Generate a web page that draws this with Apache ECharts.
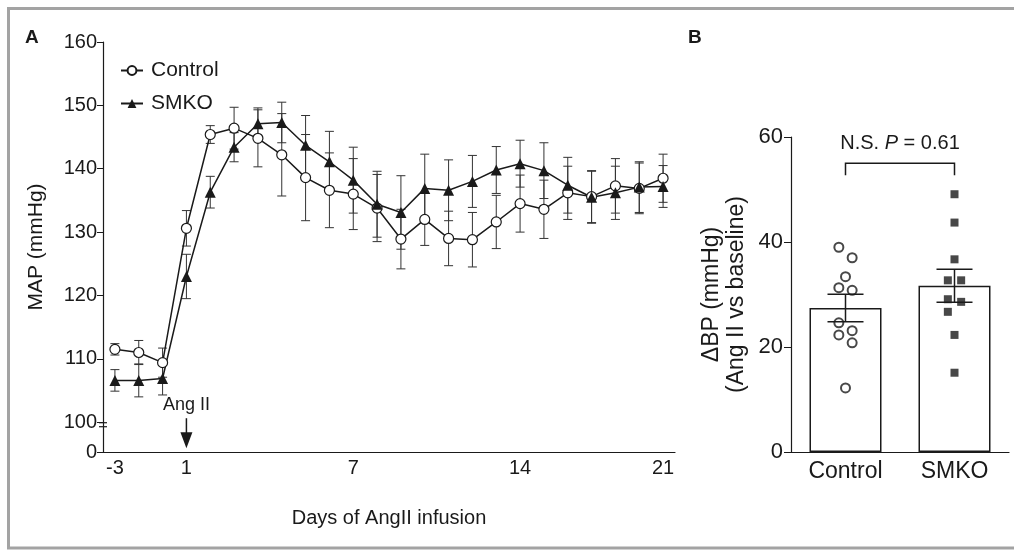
<!DOCTYPE html>
<html>
<head>
<meta charset="utf-8">
<script src="https://cdn.jsdelivr.net/npm/echarts@6.0.0/dist/echarts.min.js"></script>
<style>
html, body { margin: 0; padding: 0; background: #fff; }
#chart { width: 1014px; height: 550px; }
</style>
</head>
<body>
<div id="chart"></div>
<script>
// panel A: MAP over the infusion, 24 recording points, labelled only at some
const dayLabels = ['-3', '', '', '1', '', '', '', '', '', '', '7', '', '', '', '', '', '', '14', '', '', '', '', '', '21']
const controlMap = [111.5, 111.0, 109.4, 130.6, 145.4, 146.4, 144.8, 142.2, 138.6, 136.6, 136.0, 133.8, 128.9, 132.0, 129.0, 128.8, 131.6, 134.5, 133.6, 136.2, 135.6, 137.3, 136.9, 138.5]
const controlMapSem = [0.9, 1.9, 2.3, 2.8, 1.4, 3.3, 4.5, 6.5, 6.8, 5.9, 5.6, 5.3, 4.7, 4.1, 4.3, 4.3, 4.2, 4.5, 4.6, 4.2, 4.1, 4.3, 4.0, 3.8]
const smkoMap = [106.6, 106.6, 106.9, 123.0, 136.3, 143.4, 147.1, 147.3, 143.7, 141.1, 138.2, 134.4, 133.1, 136.9, 136.6, 138.0, 139.8, 140.8, 139.7, 137.4, 135.5, 136.2, 137.1, 137.2]
const smkoMapSem = [1.7, 2.6, 2.6, 3.5, 2.5, 2.3, 2.5, 3.2, 4.7, 4.8, 5.2, 5.2, 5.8, 5.4, 4.8, 4.1, 3.7, 3.7, 4.4, 4.4, 4.1, 4.2, 4.0, 3.3]
const mapTicks = [100, 110, 120, 130, 140, 150, 160]
const mapAxisBottom = 95.3 // broken axis: this point is labelled 0
const angIILabel = '1'

// panel B: change of BP per animal
const groups = ['Control', 'SMKO']
const controlDelta = [39.0, 37.0, 33.4, 31.3, 30.8, 24.6, 23.1, 22.3, 20.8, 12.2]
const smkoDelta = [49.1, 43.7, 36.7, 32.7, 32.7, 29.1, 28.6, 26.7, 22.3, 15.1]
const deltaTicks = [0, 20, 40, 60]
const bracketLevel = 55
const pValue = '0.61'

const FONT = "'Liberation Sans', Arial, Helvetica, sans-serif"
const INK = '#1a1a1a'
const gridA = { left: 103, top: 42, width: 572, height: 410 }
const gridB = { left: 791, top: 137, width: 218, height: 315 }

const mean = a => a.reduce((s, v) => s + v, 0) / a.length
const sem = a => {
  const m = mean(a)
  return Math.sqrt(a.reduce((s, v) => s + (v - m) * (v - m), 0) / (a.length - 1) / a.length)
}

// simple dot-plot spreading: greedy placement, then each run of close dots is centred
function swarm(values, pxPerUnit, d, step) {
  const order = values.map((v, i) => i).sort((a, b) => values[b] - values[a])
  const pos = []
  const placed = []
  order.forEach(i => {
    for (const k of [0, 1, -1, 2, -2, 3, -3]) {
      const ok = placed.every(j => {
        const dx = (k - pos[j]) * step
        const dy = (values[i] - values[j]) * pxPerUnit
        return dx * dx + dy * dy >= d * d
      })
      if (ok) { pos[i] = k; placed.push(i); break }
    }
  })
  const runs = []
  let cur = []
  order.forEach((i, n) => {
    if (n > 0 && (values[order[n - 1]] - values[i]) * pxPerUnit >= d) { runs.push(cur); cur = [] }
    cur.push(i)
  })
  runs.push(cur)
  runs.forEach(r => {
    const shift = Math.round(mean(r.map(i => pos[i])) * 2) / 2
    r.forEach(i => { pos[i] -= shift })
  })
  return pos.map(k => k * step)
}

function errorBar(halfCap, color, width) {
  return function (params, api) {
    const x = api.value(0)
    const hi = api.coord([x, api.value(2)])
    const lo = api.coord([x, api.value(1)])
    const style = { stroke: color, lineWidth: width, fill: null }
    return {
      type: 'group',
      children: [
        { type: 'line', shape: { x1: hi[0], y1: hi[1], x2: lo[0], y2: lo[1] }, style },
        { type: 'line', shape: { x1: hi[0] - halfCap, y1: hi[1], x2: hi[0] + halfCap, y2: hi[1] }, style },
        { type: 'line', shape: { x1: lo[0] - halfCap, y1: lo[1], x2: lo[0] + halfCap, y2: lo[1] }, style }
      ]
    }
  }
}

const errData = (m, s) => m.map((v, i) => [i, v - s[i], v + s[i]])

const groupMeans = [mean(controlDelta), mean(smkoDelta)]
const groupSems = [sem(controlDelta), sem(smkoDelta)]
const pxPerUnitB = gridB.height / (deltaTicks[deltaTicks.length - 1] - deltaTicks[0])
const offC = swarm(controlDelta, pxPerUnitB, 11, 13.3)
const offS = swarm(smkoDelta, pxPerUnitB, 11, 13.3)

const chart = echarts.init(document.getElementById('chart'))

const option = {
  animation: false,
  textStyle: { fontFamily: FONT, color: INK },
  grid: [
    Object.assign({ containLabel: false }, gridA),
    Object.assign({ containLabel: false }, gridB)
  ],
  legend: {
    data: ['Control', 'SMKO'],
    orient: 'vertical',
    left: 115,
    top: 55,
    itemWidth: 22,
    itemHeight: 11,
    itemGap: 12,
    textStyle: { fontSize: 21, color: INK, fontFamily: FONT, padding: [0, 0, 0, 3] }
  },
  xAxis: [
    {
      type: 'category',
      gridIndex: 0,
      data: dayLabels,
      boundaryGap: true,
      name: 'Days of AngII infusion',
      nameLocation: 'middle',
      nameGap: 56,
      nameTextStyle: { fontSize: 20, color: INK, fontFamily: FONT },
      axisLine: { lineStyle: { color: INK, width: 1.2 } },
      axisTick: { alignWithLabel: true, interval: (i, v) => v !== '', length: 5, lineStyle: { color: INK } },
      axisLabel: { interval: (i, v) => v !== '', fontSize: 20, color: INK, margin: 6, fontFamily: FONT },
      splitLine: { show: false }
    },
    {
      type: 'category',
      gridIndex: 1,
      data: groups,
      boundaryGap: true,
      axisLine: { lineStyle: { color: INK, width: 1.2 } },
      axisTick: { alignWithLabel: true, length: 6, lineStyle: { color: INK } },
      axisLabel: { fontSize: 23, color: INK, margin: 8, fontFamily: FONT },
      splitLine: { show: false }
    }
  ],
  yAxis: [
    {
      type: 'value',
      gridIndex: 0,
      min: mapAxisBottom,
      max: mapTicks[mapTicks.length - 1],
      name: 'MAP (mmHg)',
      nameLocation: 'middle',
      nameGap: 56,
      nameRotate: 90,
      nameTextStyle: { fontSize: 21, color: INK, fontFamily: FONT },
      axisLine: { show: true, lineStyle: { color: INK, width: 1.2 } },
      axisTick: { show: true, length: 6, customValues: [mapAxisBottom].concat(mapTicks), lineStyle: { color: INK } },
      axisLabel: {
        customValues: [mapAxisBottom].concat(mapTicks),
        formatter: v => (v < mapTicks[0] ? '0' : String(v)),
        fontSize: 20, color: INK, margin: 6, fontFamily: FONT
      },
      splitLine: { show: false }
    },
    {
      type: 'value',
      gridIndex: 1,
      min: deltaTicks[0],
      max: deltaTicks[deltaTicks.length - 1],
      interval: deltaTicks[1] - deltaTicks[0],
      name: 'ΔBP (mmHg)\n(Ang II vs baseline)',
      nameLocation: 'middle',
      nameGap: 42,
      nameRotate: 90,
      nameTextStyle: { fontSize: 23, color: INK, fontFamily: FONT, lineHeight: 25 },
      axisLine: { show: true, lineStyle: { color: INK, width: 1.2 } },
      axisTick: { show: true, length: 7, lineStyle: { color: INK } },
      axisLabel: { fontSize: 22, color: INK, margin: 8, fontFamily: FONT },
      splitLine: { show: false }
    }
  ],
  series: [
    {
      type: 'custom', xAxisIndex: 0, yAxisIndex: 0, z: 1,
      renderItem: errorBar(4.5, '#333', 1),
      encode: { x: 0, y: [1, 2] },
      data: errData(controlMap, controlMapSem)
    },
    {
      type: 'custom', xAxisIndex: 0, yAxisIndex: 0, z: 1,
      renderItem: errorBar(4.5, '#333', 1),
      encode: { x: 0, y: [1, 2] },
      data: errData(smkoMap, smkoMapSem)
    },
    {
      name: 'Control', type: 'line', xAxisIndex: 0, yAxisIndex: 0, z: 3,
      data: controlMap,
      symbol: 'circle', symbolSize: 10,
      itemStyle: { color: '#fff', borderColor: INK, borderWidth: 1.2 },
      lineStyle: { color: INK, width: 1.5 }
    },
    {
      name: 'SMKO', type: 'line', xAxisIndex: 0, yAxisIndex: 0, z: 3,
      data: smkoMap,
      symbol: 'triangle', symbolSize: 11,
      itemStyle: { color: INK },
      lineStyle: { color: INK, width: 1.5 }
    },
    {
      // "Ang II" marker with its arrow at the start of infusion
      type: 'custom', xAxisIndex: 0, yAxisIndex: 0, z: 4,
      data: [[dayLabels.indexOf(angIILabel), mapTicks[0]]],
      renderItem: function (params, api) {
        const p = api.coord([api.value(0), api.value(1)])
        return {
          type: 'group',
          children: [
            { type: 'text', style: { text: 'Ang II', x: p[0], y: p[1] - 17, align: 'center', verticalAlign: 'middle', font: '18px ' + FONT, fill: INK } },
            { type: 'line', shape: { x1: p[0], y1: p[1] - 4, x2: p[0], y2: p[1] + 12 }, style: { stroke: INK, lineWidth: 1.5 } },
            { type: 'polygon', shape: { points: [[p[0] - 6, p[1] + 10], [p[0] + 6, p[1] + 10], [p[0], p[1] + 26]] }, style: { fill: INK } }
          ]
        }
      }
    },
    {
      type: 'bar', xAxisIndex: 1, yAxisIndex: 1, z: 1,
      data: groupMeans,
      barWidth: 72,
      itemStyle: { color: '#fff', borderColor: INK, borderWidth: 1.5 }
    },
    {
      type: 'scatter', xAxisIndex: 1, yAxisIndex: 1, z: 3,
      data: controlDelta.map((v, i) => ({ value: [0, v], symbolOffset: [offC[i], 0] })),
      symbol: 'circle', symbolSize: 9,
      itemStyle: { color: '#fff', borderColor: INK, borderWidth: 2 }
    },
    {
      type: 'scatter', xAxisIndex: 1, yAxisIndex: 1, z: 3,
      data: smkoDelta.map((v, i) => ({ value: [1, v], symbolOffset: [offS[i], 0] })),
      symbol: 'rect', symbolSize: 8,
      itemStyle: { color: INK }
    },
    {
      type: 'custom', xAxisIndex: 1, yAxisIndex: 1, z: 4,
      renderItem: errorBar(18, INK, 1.5),
      encode: { x: 0, y: [1, 2] },
      data: errData(groupMeans, groupSems)
    },
    {
      // significance bracket between the two groups
      type: 'custom', xAxisIndex: 1, yAxisIndex: 1, z: 4,
      data: [[0, 1, bracketLevel]],
      renderItem: function (params, api) {
        const a = api.coord([api.value(0), api.value(2)])
        const b = api.coord([api.value(1), api.value(2)])
        return {
          type: 'group',
          children: [
            { type: 'polyline', shape: { points: [[a[0], a[1] + 12], [a[0], a[1]], [b[0], b[1]], [b[0], b[1] + 12]] }, style: { stroke: INK, lineWidth: 1.5, fill: null } },
            {
              type: 'text',
              style: {
                text: 'N.S. {it|P} = ' + pValue,
                x: (a[0] + b[0]) / 2, y: a[1] - 20,
                align: 'center', verticalAlign: 'middle',
                font: '20px ' + FONT, fill: INK,
                rich: { it: { fontStyle: 'italic', fontSize: 20, fontFamily: FONT, fill: INK } }
              }
            }
          ]
        }
      }
    }
  ]
}

chart.setOption(option)

// frame (open on the right), panel letters and the axis-break marks
const y100 = chart.convertToPixel({ yAxisIndex: 0 }, mapTicks[0])
chart.setOption({
  graphic: [
    { type: 'polyline', shape: { points: [[1030, 8.5], [8.5, 8.5], [8.5, 548], [1030, 548]] }, style: { fill: null, stroke: '#a3a3a3', lineWidth: 3 }, silent: true },
    { type: 'text', left: 25, top: 28, style: { text: 'A', font: 'bold 19px ' + FONT, fill: INK } },
    { type: 'text', left: 688, top: 28, style: { text: 'B', font: 'bold 19px ' + FONT, fill: INK } },
    { type: 'line', shape: { x1: gridA.left - 4, y1: y100 + 0.5, x2: gridA.left + 4, y2: y100 + 0.5 }, style: { stroke: INK, lineWidth: 1.2 } },
    { type: 'line', shape: { x1: gridA.left - 4, y1: y100 + 4.5, x2: gridA.left + 4, y2: y100 + 4.5 }, style: { stroke: INK, lineWidth: 1.2 } }
  ]
})
</script>
</body>
</html>
